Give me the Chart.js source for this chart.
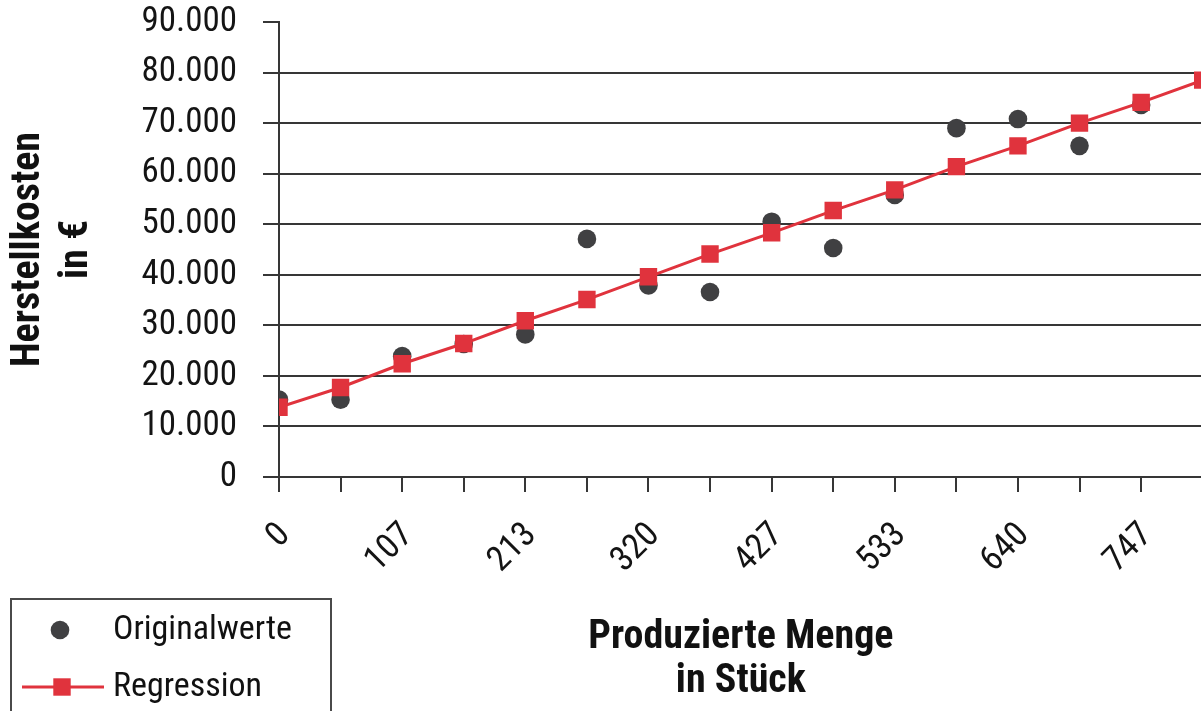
<!DOCTYPE html>
<html lang="de">
<head>
<meta charset="utf-8">
<title>Herstellkosten und produzierte Menge</title>
<script src="https://cdn.jsdelivr.net/npm/chart.js@4.4.1/dist/chart.umd.min.js"></script>
<style>
  html, body { margin: 0; padding: 0; background: #ffffff; overflow: hidden; }
  #wrap { width: 1201px; height: 711px; overflow: hidden; position: relative; }
  canvas { display: block; }
</style>
</head>
<body>
<div id="wrap"><canvas id="chart" width="1215" height="711"></canvas></div>
<script>
// Produzierte Menge (Stück) an den Messpunkten
const mengen = [0, 53.3, 106.7, 160, 213.3, 266.7, 320, 373.3, 426.7, 480, 533.3, 586.7, 640, 693.3, 746.7, 800];
// Beobachtete Herstellkosten in €
const originalwerte = [15300, 15300, 23900, 26300, 28200, 47100, 37900, 36600, 50500, 45300, 55800, 69000, 70800, 65500, 73600, null];
// Kosten laut Regressionsgerade in €
const regression = [13800, 17700, 22400, 26400, 30900, 35100, 39600, 44100, 48300, 52700, 56800, 61400, 65500, 70000, 74100, 78500];
// Beschriftung der x-Achse (nur jeder zweite Teilstrich)
const xTickLabels = ['0', '', '107', '', '213', '', '320', '', '427', '', '533', '', '640', '', '747', ''];
// Werte der y-Achse
const yTicks = [0, 10000, 20000, 30000, 40000, 50000, 60000, 70000, 80000, 90000];

const FONT = "'Noto Sans Condensed', 'Roboto Condensed', 'Liberation Sans Narrow', 'DejaVu Sans Condensed', sans-serif";
const STYLE = 'normal condensed';
const AXIS = '#363636';
const RED = '#e0333d';
const DOT = '#404042';

const fmt = v => String(v).replace(/\B(?=(\d{3})+(?!\d))/g, '.');

const legendBox = {
  id: 'legendBox',
  afterDraw(chart) {
    const ctx = chart.ctx;
    const [reg, orig] = chart.data.datasets;
    ctx.save();
    ctx.strokeStyle = '#4a4a4a';
    ctx.lineWidth = 2;
    ctx.strokeRect(11, 599, 320, 140);

    ctx.fillStyle = orig.pointBackgroundColor;
    ctx.beginPath();
    ctx.arc(60, 630, orig.pointRadius, 0, Math.PI * 2);
    ctx.fill();

    ctx.strokeStyle = reg.borderColor;
    ctx.lineWidth = reg.borderWidth;
    ctx.beginPath();
    ctx.moveTo(22, 687);
    ctx.lineTo(104, 687);
    ctx.stroke();
    const s = Math.SQRT1_2 * reg.pointRadius;
    ctx.fillStyle = reg.pointBackgroundColor;
    ctx.fillRect(62 - s, 687 - s, 2 * s, 2 * s);

    ctx.fillStyle = '#111111';
    ctx.font = STYLE + ' 34px ' + FONT;
    ctx.textBaseline = 'middle';
    ctx.textAlign = 'left';
    ctx.fillText(orig.label, 113, 630);
    ctx.fillText(reg.label, 113, 687);
    ctx.restore();
  }
};

new Chart(document.getElementById('chart'), {
  type: 'line',
  data: {
    datasets: [
      {
        label: 'Regression',
        data: mengen.map((x, i) => ({ x, y: regression[i] })),
        borderColor: RED,
        borderWidth: 3,
        pointStyle: 'rect',
        pointRadius: 12.3,
        pointBorderWidth: 0,
        pointBackgroundColor: RED,
        pointBorderColor: RED,
        showLine: true,
        tension: 0,
        order: 0
      },
      {
        label: 'Originalwerte',
        data: mengen.map((x, i) => ({ x, y: originalwerte[i] })),
        showLine: false,
        pointStyle: 'circle',
        pointRadius: 9.3,
        pointBorderWidth: 0,
        pointBackgroundColor: DOT,
        pointBorderColor: DOT,
        order: 1
      }
    ]
  },
  options: {
    responsive: false,
    animation: false,
    devicePixelRatio: 1,
    layout: { padding: { top: 22, left: 0, right: 6, bottom: 0 } },
    plugins: { legend: { display: false }, tooltip: { enabled: false } },
    scales: {
      x: {
        type: 'linear',
        min: 0,
        max: 800,
        afterBuildTicks(scale) { scale.ticks = mengen.map(v => ({ value: v })); },
        afterFit(scale) {
          scale.height = 234;
          scale.paddingLeft = 0; scale.paddingRight = 0;
          scale.paddingTop = 0; scale.paddingBottom = 0;
        },
        grid: { drawOnChartArea: false, drawTicks: true, tickLength: 15, tickColor: AXIS, tickWidth: 2, lineWidth: 2, color: AXIS },
        border: { display: true, color: AXIS, width: 2 },
        ticks: {
          autoSkip: false,
          minRotation: 45,
          maxRotation: 45,
          padding: 23,
          labelOffset: 6,
          color: '#141414',
          font: { family: FONT, style: STYLE, size: 35 },
          callback: (v, i) => xTickLabels[i]
        },
        title: {
          display: true,
          text: ['Produzierte Menge', 'in Stück'],
          color: '#111111',
          font: { family: FONT, style: STYLE, size: 40, weight: 'bold', lineHeight: 1.1 },
          padding: { top: 0, bottom: 7 }
        }
      },
      y: {
        min: 0,
        max: 90000,
        afterBuildTicks(scale) { scale.ticks = yTicks.map(v => ({ value: v })); },
        afterFit(scale) {
          scale.width = 279;
          scale.paddingTop = 0; scale.paddingBottom = 0;
          scale.paddingLeft = 0; scale.paddingRight = 0;
        },
        grid: {
          drawTicks: true,
          tickLength: 16,
          tickColor: AXIS,
          tickWidth: 2,
          lineWidth: 2,
          color: c => (c.tick && c.tick.value === 90000) ? 'rgba(0,0,0,0)' : AXIS
        },
        border: { display: true, color: AXIS, width: 2 },
        ticks: {
          padding: 26,
          color: '#141414',
          font: { family: FONT, style: STYLE, size: 35 },
          callback: v => fmt(v)
        },
        title: {
          display: true,
          text: ['Herstellkosten', 'in €'],
          color: '#111111',
          font: { family: FONT, style: STYLE, size: 40, weight: 'bold', lineHeight: 1.2 },
          padding: { top: 5, bottom: 0 }
        }
      }
    }
  },
  plugins: [legendBox]
});
</script>
</body>
</html>
